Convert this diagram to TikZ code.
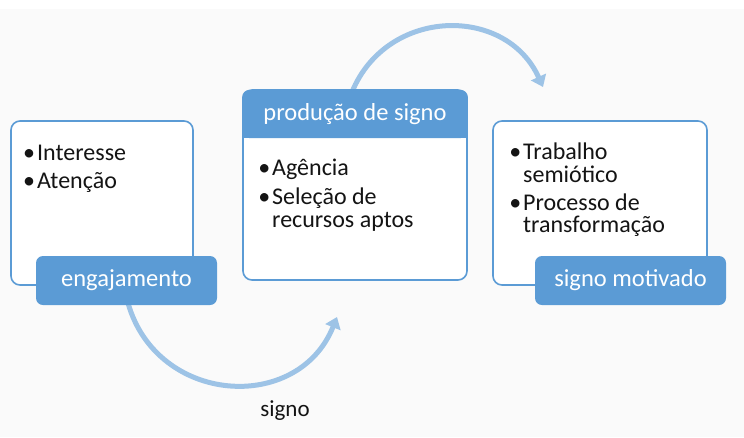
\documentclass[tikz,border=0pt]{standalone}
\usepackage{fontspec}
\setmainfont{Carlito}
\usetikzlibrary{arrows.meta}
\definecolor{boxblue}{HTML}{5B9BD5}
\definecolor{arrblue}{HTML}{9DC3E6}
\definecolor{txt}{HTML}{141414}
\definecolor{bg}{HTML}{FAFAFA}
\tikzset{
  outl/.style={draw=boxblue, line width=1.6pt, fill=white, rounded corners=9pt, inner sep=0pt},
  lbl/.style={fill=boxblue, rounded corners=7pt, text=white, inner sep=0pt,
    minimum height=49pt, font=\fontsize{24.5}{24.5}\selectfont},
  itm/.style={anchor=base west, inner sep=0pt, text=txt, font=\fontsize{24}{24}\selectfont},
  arr/.style={draw=arrblue, line width=5pt, -{Triangle[width=16pt,length=11pt]}},
}
\newcommand{\bul}{\llap{•\hspace{2pt}}}
\begin{document}
\begin{tikzpicture}[x=1pt,y=-1pt]
\useasboundingbox (0,0) rectangle (744,437);
\fill[bg] (0,9) rectangle (744,437);
% arrow end points
\coordinate (b1s) at (128,303);
\coordinate (b1e) at (337,317);
\coordinate (t1s) at (352,92);
\coordinate (t1e) at (543,87);
\draw[arr] (b1s) .. controls (157,405) and (298,414) .. (b1e);
\draw[arr] (t1s) .. controls (387,7) and (506,5) .. (t1e);
% boxes
\node[outl, minimum width=182pt, minimum height=164pt] (lbox) at (102,203) {};
\node[outl, minimum width=224pt, minimum height=190pt] (mbox) at (355,185) {};
\node[outl, minimum width=214pt, minimum height=164pt] (rbox) at (600,203) {};
% labels
\node[lbl, minimum width=181pt] (eng) at (126.5,280.5) {engajamento};
\node[lbl, minimum width=191pt] (smot) at (630.5,280.5) {signo motivado};
\node[lbl, minimum width=225.6pt, minimum height=48pt] (hdr) at (355,114) {};
\fill[boxblue] (hdr.west) rectangle (hdr.south east);
\node[inner sep=0pt, text=white, font=\fontsize{24.5}{24.5}\selectfont] (hdrt) at (355,114) {produção de signo};
% items
\node[itm] (l1) at (37,160) {\bul Interesse};
\node[itm] (l2) at (37,188) {\bul Atenção};
\node[itm] (m1) at (272,175) {\bul Agência};
\node[itm] (m2) at (272,204) {\bul Seleção de};
\node[itm] (m3) at (272,227) {recursos aptos};
\node[itm] (r1) at (523,159) {\bul Trabalho};
\node[itm] (r2) at (523,182) {semiótico};
\node[itm] (r3) at (523,210) {\bul Processo de};
\node[itm] (r4) at (523,232) {transformação};
% signo
\node[inner sep=0pt, text=txt, font=\fontsize{23}{23}\selectfont] (sg) at (285,411) {signo};
\end{tikzpicture}
\end{document}
